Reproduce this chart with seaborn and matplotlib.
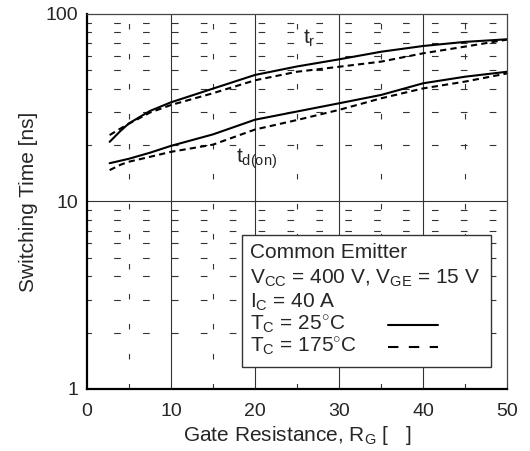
import matplotlib
matplotlib.use("Agg")
import matplotlib.pyplot as plt
import numpy as np
import pandas as pd
import seaborn as sns
from matplotlib.patches import Rectangle

# gate resistance [ohm]
rg = [2.7, 4, 5, 7.5, 10, 15, 20, 25, 30, 35, 40, 45, 50]

# rise time t_r [ns]
tr_25 = [20.8, 23.8, 26.1, 30.4, 33.8, 40.0, 47.3, 52.5, 57.3, 62.9, 67.5, 71.0, 73.3]
tr_175 = [22.6, 24.5, 26.0, 29.8, 32.7, 37.8, 44.3, 49.2, 52.3, 55.7, 61.7, 67.0, 73.0]

# turn-on delay t_d(on) [ns]
td_25 = [16.0, 16.5, 16.9, 18.2, 19.8, 22.8, 27.3, 30.2, 33.4, 37.0, 42.7, 46.3, 49.2]
td_175 = [14.7, 15.7, 16.3, 17.3, 18.4, 20.1, 24.2, 27.2, 30.8, 35.5, 40.1, 43.6, 48.2]

x_ticks = [0, 10, 20, 30, 40, 50]
y_ticks = [1, 10, 100]

sns.set_style("white")
plt.rcParams['font.family'] = ['Liberation Sans', 'DejaVu Sans']
plt.rcParams['mathtext.fontset'] = 'custom'
plt.rcParams['mathtext.rm'] = 'Liberation Sans'
plt.rcParams['mathtext.it'] = 'Liberation Sans'

fig = plt.figure(figsize=(5.3, 4.51), dpi=100)
ax = fig.add_axes([0.164, 0.1375, 0.793, 0.8315])

rows = []
for name, vals in [("tr25", tr_25), ("tr175", tr_175), ("td25", td_25), ("td175", td_175)]:
    for x, v in zip(rg, vals):
        rows.append({"RG": x, "t": v, "curve": name})
df = pd.DataFrame(rows)

for name, ls in [("tr25", "-"), ("tr175", (0, (3, 2))), ("td25", "-"), ("td175", (0, (3, 2)))]:
    sns.lineplot(data=df[df["curve"] == name], x="RG", y="t", ax=ax,
                 color="black", linewidth=1.5, linestyle=ls, legend=False)

ax.set_yscale("log")
ax.set_xlim(0, 50)
ax.set_ylim(1, 100)

# grid: solid majors, dashed minors
for x in [10, 20, 30, 40]:
    ax.axvline(x, color="#333333", linewidth=0.8, zorder=0)
ax.axhline(10, color="#333333", linewidth=0.8, zorder=0)
for x in [5, 15, 25, 35, 45]:
    ax.axvline(x, color="#333333", linewidth=0.8, linestyle=(0, (5, 22)), zorder=0)
for dec in [1, 10]:
    for m in range(2, 10):
        ax.axhline(dec * m, color="#333333", linewidth=0.8,
                   linestyle=(2, (6, 20)), zorder=0)

ax.set_xticks(x_ticks)
ax.set_yticks(y_ticks)
ax.set_yticklabels([str(v) for v in y_ticks])
ax.yaxis.set_minor_locator(matplotlib.ticker.NullLocator())
ax.tick_params(axis="both", length=0, labelsize=14)
ax.tick_params(axis="x", pad=10)
ax.tick_params(axis="y", pad=6)

for s in ["left", "bottom"]:
    ax.spines[s].set_linewidth(1.6)
    ax.spines[s].set_color("black")
for s in ["top", "right"]:
    ax.spines[s].set_linewidth(0.9)
    ax.spines[s].set_color("#444444")

ax.set_xlabel(r"Gate Resistance, R$_{\rm G}$ [   ]", fontsize=15, labelpad=3)
ax.set_ylabel("Switching Time [ns]", fontsize=15, labelpad=6)

ax.text(26.5, 74, r"t$_{\rm r}$", fontsize=15, ha="center", va="center")
ax.text(20.2, 17.0, r"t$_{\rm d(on)}$", fontsize=15, ha="center", va="center")

# condition box
ax.add_patch(Rectangle((0.369, 0.059), 0.593, 0.352, transform=ax.transAxes,
                       facecolor="white", edgecolor="#333333", linewidth=1.0, zorder=3))
lines = ["Common Emitter",
         r"V$_{\rm CC}$ = 400 V, V$_{\rm GE}$ = 15 V",
         r"I$_{\rm C}$ = 40 A",
         r"T$_{\rm C}$ = 25$^{\circ}$C",
         r"T$_{\rm C}$ = 175$^{\circ}$C"]
ys = [0.363, 0.296, 0.232, 0.171, 0.112]
for txt, y in zip(lines, ys):
    ax.text(0.388, y, txt, transform=ax.transAxes, fontsize=15,
            ha="left", va="center", zorder=4)
ax.plot([0.717, 0.836], [0.171, 0.171], transform=ax.transAxes,
        color="black", linewidth=1.5, zorder=4)
ax.plot([0.717, 0.836], [0.112, 0.112], transform=ax.transAxes,
        color="black", linewidth=1.5, linestyle=(0, (5, 5)), zorder=4)

fig.savefig("out.png", dpi=100)
